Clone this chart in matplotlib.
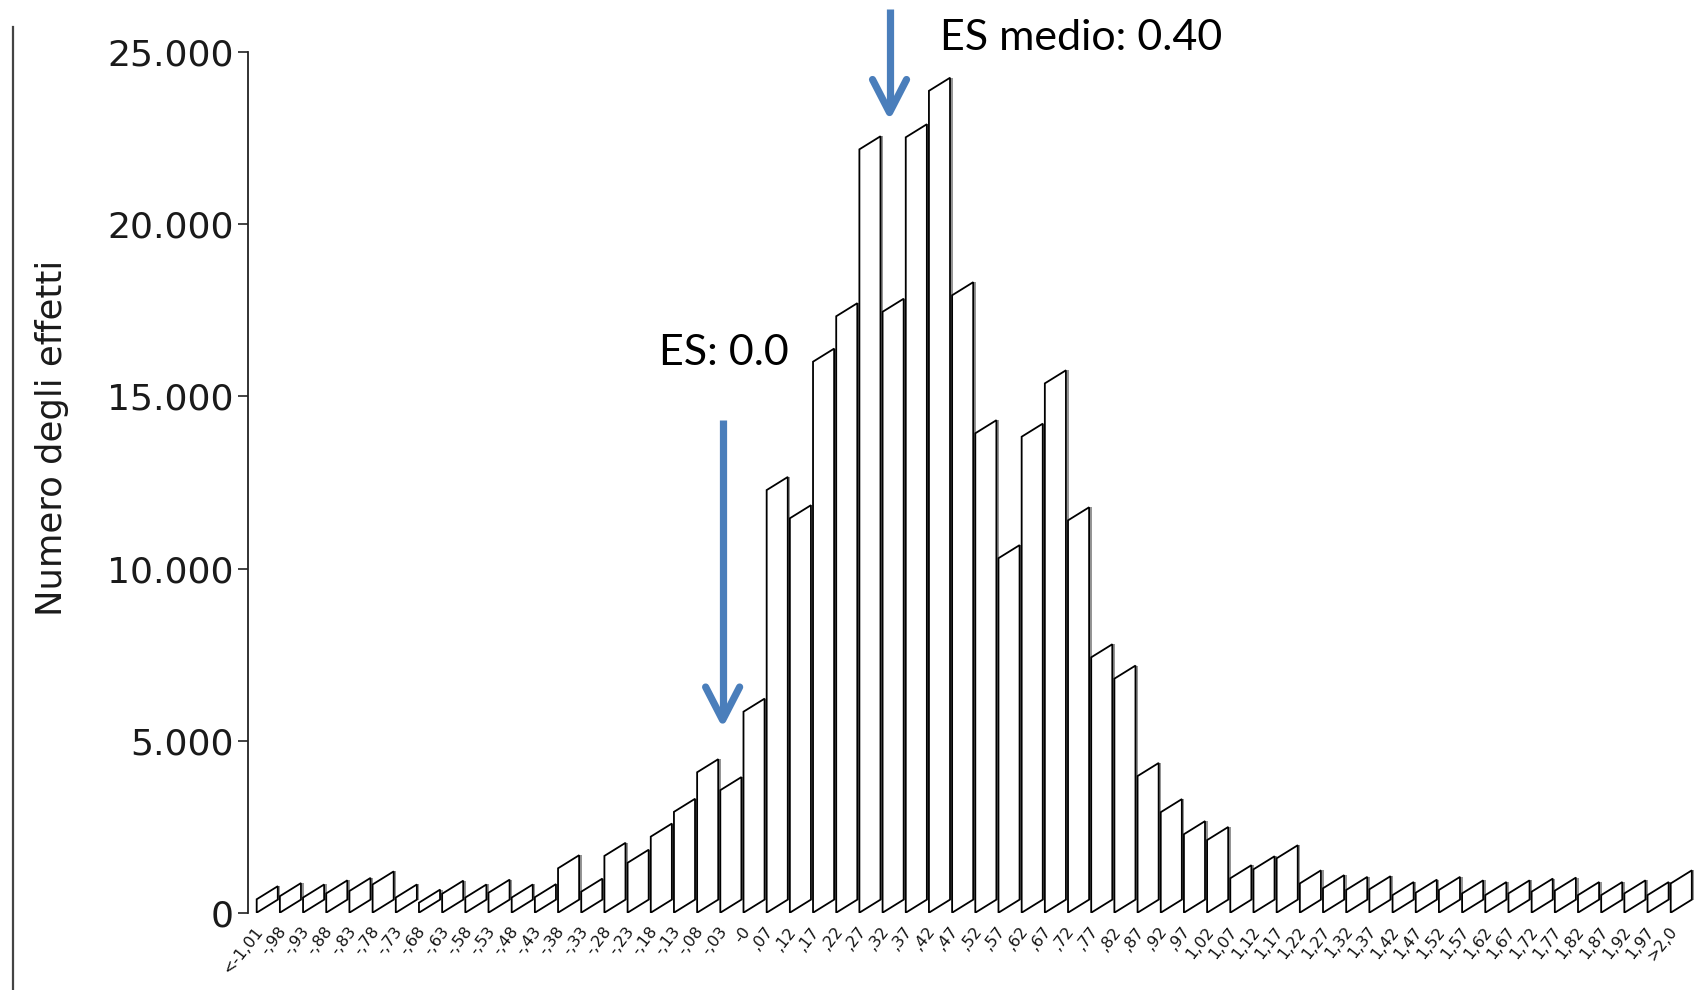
import matplotlib
matplotlib.use("Agg")
import matplotlib.pyplot as plt
from matplotlib.patches import Polygon
from matplotlib.transforms import offset_copy

# ---------------- data ----------------
categories = ["<-1,01", "-,98", "-,93", "-,88", "-,83", "-,78", "-,73", "-,68", "-,63", "-,58",
              "-,53", "-,48", "-,43", "-,38", "-,33", "-,28", "-,23", "-,18", "-,13", "-,08",
              "-,03", "-0", ",07", ",12", ",17", ",22", ",27", ",32", ",37", ",42",
              ",47", ",52", ",57", ",62", ",67", ",72", ",77", ",82", ",87", ",92",
              ",97", "1,02", "1,07", "1,12", "1,17", "1,22", "1,27", "1,32", "1,37", "1,42",
              "1,47", "1,52", "1,57", "1,62", "1,67", "1,72", "1,77", "1,82", "1,87", "1,92",
              "1,97", ">2,0"]
counts = [390, 480, 440, 560, 630, 820, 440, 290, 550, 440,
          580, 440, 450, 1290, 610, 1650, 1450, 2210, 2930, 4080,
          3560, 5840, 12280, 11460, 16010, 17330, 22180, 17460, 22530, 23880,
          17940, 13930, 10300, 13830, 15380, 11400, 7420, 6800, 3970, 2920,
          2280, 2110, 1000, 1260, 1580, 850, 710, 660, 680, 510,
          580, 660, 560, 510, 560, 610, 640, 510, 510, 560,
          510, 850]
yticks = [0, 5000, 10000, 15000, 20000, 25000]
ytick_labels = ["0", "5.000", "10.000", "15.000", "20.000", "25.000"]
ylabel = "Numero degli effetti"
annot_mean = "ES medio: 0.40"
annot_zero = "ES: 0.0"

# ---------------- figure ----------------
W, H, DPI = 1707, 990, 100
fig = plt.figure(figsize=(W / DPI, H / DPI), dpi=DPI)
fig.patch.set_facecolor("white")

ax = fig.add_axes([248 / W, 77.3 / H, 1445.9 / W, 860.4 / H])
ax.set_xlim(-0.375, 62.0)
ax.set_ylim(0, 25000)
for s in ["top", "right", "bottom"]:
    ax.spines[s].set_visible(False)
ax.spines["left"].set_color("#222222")
ax.spines["left"].set_linewidth(1.3)
ax.patch.set_alpha(0)

bar_w = 0.91
skew = 380  # upward shift of the right edge (pseudo-3D)

shadow_tr = offset_copy(ax.transData, fig=fig, x=1.6, y=0, units="dots")
for i, v in enumerate(counts):
    verts = [(i, 0), (i + bar_w, skew), (i + bar_w, v + skew), (i, v)]
    ax.add_patch(Polygon(verts, closed=True, facecolor="white", edgecolor="black",
                         linewidth=1.3, joinstyle="miter", zorder=3))
    ax.plot([i + bar_w, i + bar_w], [skew, v + skew], color="#8a8a8a", lw=1.3,
            transform=shadow_tr, zorder=2, solid_capstyle="butt")

# x tick labels
ax.set_xticks([i - 0.1 for i in range(len(categories))])
ax.set_xticklabels(categories, rotation=52, ha="right", va="top",
                   rotation_mode="anchor", fontsize=11.5, color="#111111")
ax.tick_params(axis="x", length=0, pad=8)

# y ticks
ax.set_yticks(yticks)
ax.set_yticklabels(ytick_labels, fontsize=26, color="#1a1a1a")
ax.tick_params(axis="y", direction="out", length=7.5, width=1.2, color="#222222", pad=3)

# y label
fig.text(52 / W, 1 - 438 / H, ylabel, rotation=90, ha="center", va="center",
         fontsize=25.5, color="#1a1a1a", family="DejaVu Sans")

# annotations
blue = "#4A7EBB"
pxy = 5000 / 172.1   # data units per pixel (y)
pxx = 1 / 23.18      # data units per pixel (x)

def arrow(x, y_top, y_tip):
    ax.plot([x, x], [y_top, y_tip + 6 * pxy], color=blue, lw=5.2, solid_capstyle="butt",
            clip_on=False, zorder=5)
    ax.plot([x - 17 * pxx, x, x + 17 * pxx], [y_tip + 33 * pxy, y_tip, y_tip + 33 * pxy],
            color=blue, lw=5.2, solid_capstyle="round", solid_joinstyle="round",
            clip_on=False, zorder=5)

arrow(27.3, 26262, 23250)
arrow(20.1, 14313, 5598)

fig.text(940 / W, 1 - 38 / H, annot_mean, ha="left", va="center", fontsize=31,
         family=["Lato", "DejaVu Sans"], color="black")
fig.text(659 / W, 1 - 353 / H, annot_zero, ha="left", va="center", fontsize=31,
         family=["Lato", "DejaVu Sans"], color="black")

# left border line of the slide
fig.add_artist(plt.Line2D([13 / W, 13 / W], [0, 1 - 27 / H], transform=fig.transFigure,
                          color="#444444", lw=1.6))

fig.savefig("out.png", dpi=DPI, facecolor="white")
